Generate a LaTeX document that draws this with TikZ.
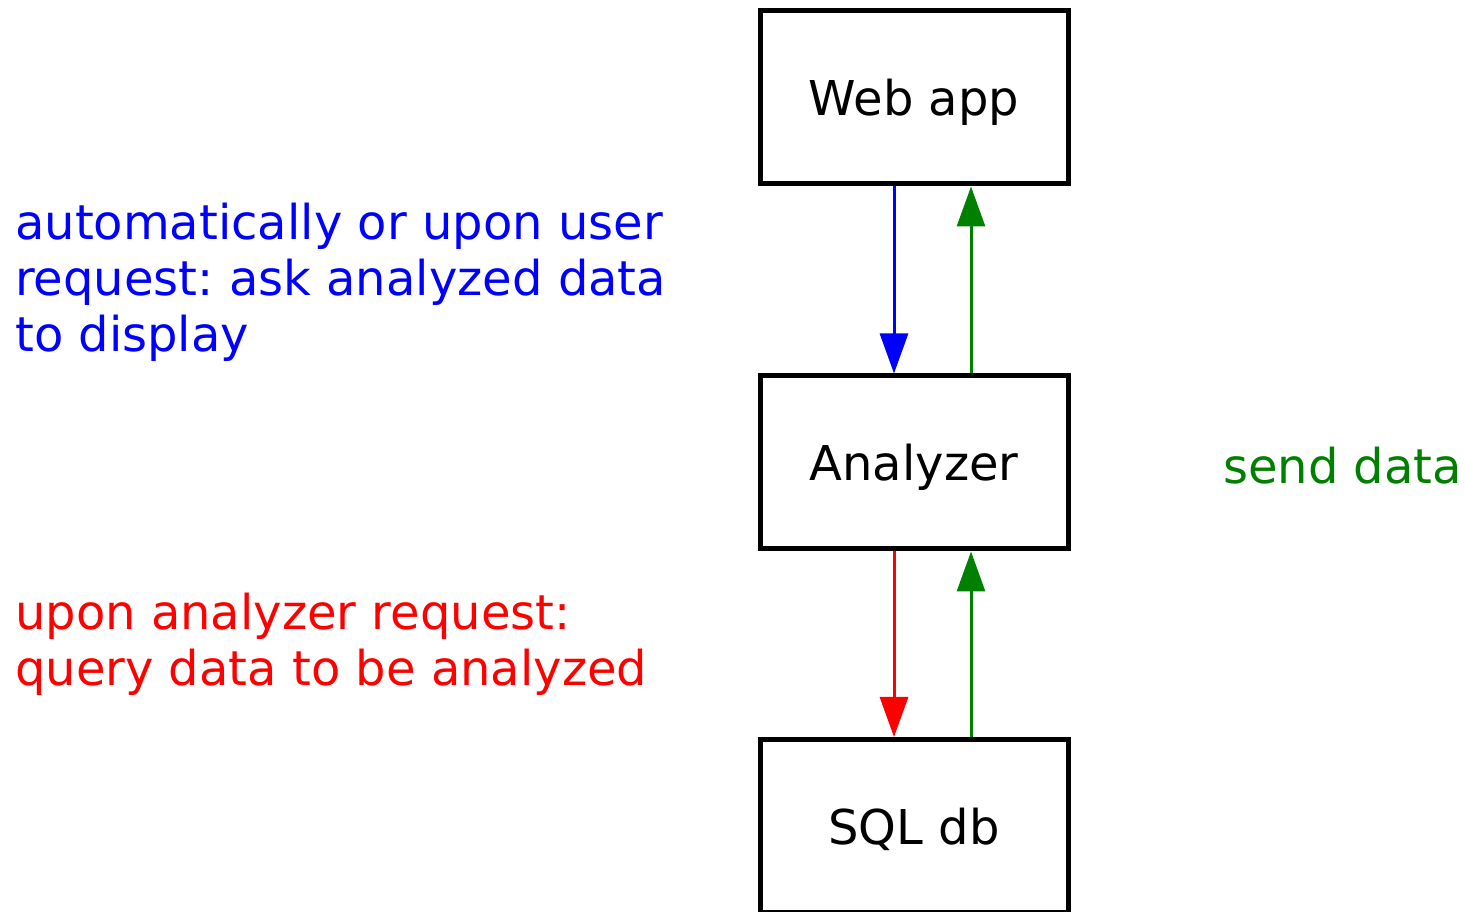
\documentclass[tikz,border=0pt]{standalone}
\usepackage{fontspec}
\setmainfont{DejaVu Sans}
\frenchspacing
\usetikzlibrary{arrows.meta,calc}
\begin{document}
\begin{tikzpicture}[x=1pt,y=1pt,
  box/.style={draw=black,line width=5pt,minimum width=308pt,minimum height=173pt,inner sep=0pt,text height=37pt,text depth=0pt,font=\fontsize{48}{56}\selectfont},
  lbl/.style={inner sep=0pt,align=left,anchor=base west,font=\fontsize{48}{56}\selectfont},
  arr/.style={line width=3pt,-{Triangle[length=40pt,width=28pt]}}]
\useasboundingbox (0,0) rectangle (1465,912);
\node[box] (web) at (914,814.5) {Web app};
\node[box] (ana) at (914,449.5) {Analyzer};
\node[box] (sql) at (914,86) {SQL db};
\draw[arr,blue] ($(web.south)+(-20,0)$) -- ($(ana.north)+(-20,0)$);
\draw[arr,green!50!black] ($(ana.north)+(57,0)$) -- ($(web.south)+(57,0)$);
\draw[arr,red] ($(ana.south)+(-20,0)$) -- ($(sql.north)+(-20,0)$);
\draw[arr,green!50!black] ($(sql.north)+(57,0)$) -- ($(ana.south)+(57,0)$);
\node[lbl,text=blue] (t1) at (15,560) {automatically or upon user\\request: ask analyzed data\\to display};
\node[lbl,text=red] (t2) at (15,226) {upon analyzer request:\\query data to be analyzed};
\node[lbl,text=green!50!black] (t3) at (1223,428) {send data};
\end{tikzpicture}
\end{document}
